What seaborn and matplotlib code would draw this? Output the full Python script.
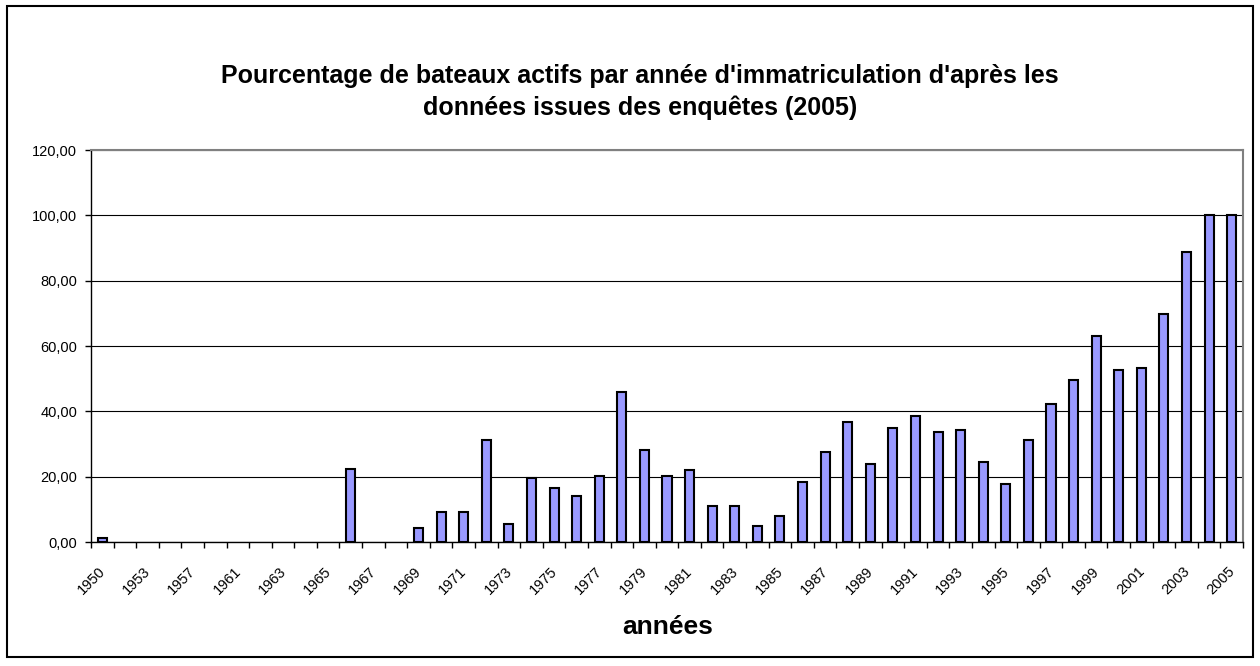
import matplotlib
matplotlib.use("Agg")
import matplotlib.pyplot as plt
import matplotlib.patches as mpatches
from matplotlib.transforms import ScaledTranslation
from matplotlib.ticker import FuncFormatter
import pandas as pd
import seaborn as sns

# années d'immatriculation (catégories de l'axe x)
years = [1950, 1952, 1953, 1955, 1957, 1959, 1961, 1962, 1963, 1964,
         1965, 1966, 1967, 1968, 1969, 1970, 1971, 1972, 1973, 1974,
         1975, 1976, 1977, 1978, 1979, 1980, 1981, 1982, 1983, 1984,
         1985, 1986, 1987, 1988, 1989, 1990, 1991, 1992, 1993, 1994,
         1995, 1996, 1997, 1998, 1999, 2000, 2001, 2002, 2003, 2004,
         2005]

# pourcentage de bateaux actifs
pct_actifs = [1.2, 0, 0, 0, 0, 0, 0, 0, 0, 0,
              0, 22.5, 0, 0, 4.2, 9.1, 9.1, 31.2, 5.5, 19.5,
              16.5, 14.1, 20.2, 45.8, 28.2, 20.2, 22.0, 11.0, 11.0, 5.0,
              8.0, 18.4, 27.5, 36.6, 23.9, 34.9, 38.6, 33.6, 34.2, 24.4,
              17.8, 31.2, 42.2, 49.6, 63.1, 52.6, 53.3, 69.8, 88.8, 100.0,
              100.0]

y_ticks = [0, 20, 40, 60, 80, 100, 120]

title = "Pourcentage de bateaux actifs par année d'immatriculation d'après les\ndonnées issues des enquêtes (2005)"

df = pd.DataFrame({"annee": [str(y) for y in years], "pct": pct_actifs})

sns.set_style("white")
plt.rcParams["font.family"] = ["Liberation Sans", "DejaVu Sans"]
plt.rcParams.update({"text.color": "black", "xtick.color": "black",
                     "ytick.color": "black", "axes.labelcolor": "black"})

W, H = 1260, 666
fig = plt.figure(figsize=(W / 100, H / 100), dpi=100)
ax = fig.add_axes([91 / W, (H - 542) / H, (1243 - 91) / W, (542 - 150) / H])

sns.barplot(data=df, x="annee", y="pct", order=df["annee"], color="#9999ff",
            saturation=1, width=0.4, edgecolor="black", linewidth=1.5, ax=ax)

# pas de trait pour les barres nulles
for p in ax.patches:
    if p.get_height() == 0:
        p.set_linewidth(0)

ax.set_ylim(0, 120)
ax.set_xlim(-0.5, len(years) - 0.5)
ax.set_yticks(y_ticks)
ax.yaxis.set_major_formatter(FuncFormatter(lambda v, _: f"{v:.2f}".replace(".", ",")))
ax.yaxis.grid(True, color="black", linewidth=0.8)
ax.set_axisbelow(True)
ax.tick_params(axis="y", direction="out", length=4, width=1, color="black",
               labelsize=10.5, pad=6, left=True)

idx = list(range(0, len(years), 2))
ax.set_xticks(idx)
ax.set_xticklabels([years[i] for i in idx], rotation=45, ha="right",
                   rotation_mode="anchor", fontsize=10.5)
ax.set_xticks([i - 0.5 for i in range(len(years) + 1)], minor=True)
ax.tick_params(axis="x", which="major", length=0, pad=16)
ax.tick_params(axis="x", which="minor", direction="out", length=4, width=1,
               color="black", bottom=True)
for lab in ax.get_xticklabels():
    lab.set_transform(lab.get_transform() + ScaledTranslation(-3 / 72, 0, fig.dpi_scale_trans))

for side in ["left", "bottom"]:
    ax.spines[side].set_color("black")
    ax.spines[side].set_linewidth(1)
for side in ["top", "right"]:
    ax.spines[side].set_visible(True)
    ax.spines[side].set_color("#808080")
    ax.spines[side].set_linewidth(1.5)

ax.set_xlabel("")
ax.set_ylabel("")

fig.text(640 / W, 1 - 92 / H, title, ha="center", va="center", fontsize=18,
         fontweight="bold", linespacing=1.4)
fig.text(668 / W, 1 - 627 / H, "années", ha="center", va="center",
         fontsize=19, fontweight="bold")

fig.patches.append(mpatches.Rectangle((7 / W, 9 / H), (1253 - 7) / W, (657 - 6) / H,
                                      transform=fig.transFigure, fill=False,
                                      edgecolor="black", linewidth=1.5))

fig.savefig("out.png", dpi=100)
